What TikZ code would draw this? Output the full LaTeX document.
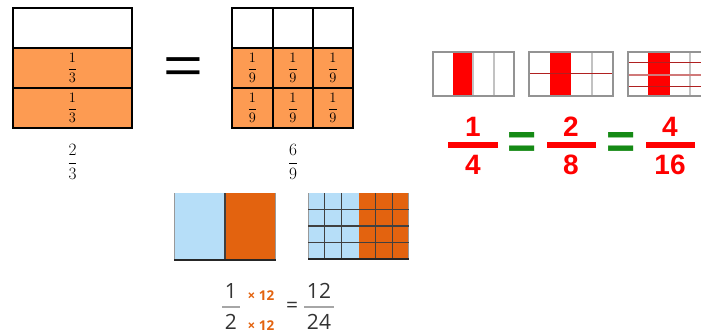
\documentclass[tikz,border=0pt]{standalone}
\usepackage{amsmath}
\usepackage{fontspec}
\newfontfamily\lsans{Liberation Sans}
\newfontfamily\osans{Open Sans}
\definecolor{lorange}{HTML}{FD9B52}
\definecolor{bblue}{HTML}{B6DEF8}
\definecolor{dorange}{HTML}{E3630F}
\definecolor{txtgray}{HTML}{333333}
\definecolor{ggreen}{HTML}{158A15}
\definecolor{dred}{HTML}{B02020}
\definecolor{rred}{HTML}{FF0000}
\tikzset{
  gridline/.style={line width=1.6pt, black},
  boxfrac/.style={inner sep=0pt, font=\fontsize{15}{17}\selectfont},
  labfrac/.style={inner sep=0pt, font=\fontsize{18}{20}\selectfont},
  redtxt/.style={inner sep=0pt, text=rred, font=\lsans\bfseries\fontsize{28}{30}\selectfont},
  redbar/.style={fill=rred, draw=none},
  greeneq/.style={inner sep=0pt, text=ggreen, font=\lsans\bfseries\fontsize{50}{50}\selectfont},
  smallframe/.style={draw=gray!85, line width=1.4pt},
  smalldiv/.style={draw=gray!120!black!60, line width=1.2pt},
  redline/.style={draw=dred, line width=1pt},
  btxt/.style={inner sep=0pt, text=txtgray, font=\osans\fontsize{21}{23}\selectfont},
  otxt/.style={inner sep=0pt, text=dorange, font=\osans\bfseries\fontsize{13.5}{15}\selectfont},
  fracbar/.style={draw=gray!70, line width=1.4pt},
  bgrid/.style={draw=black!75, line width=1.1pt},
}
\begin{document}
\begin{tikzpicture}[x=1pt,y=-1pt]
\useasboundingbox (0,0) rectangle (701,334);

% ---- left box 2/3 ----
\fill[lorange] (13,48) rectangle (132,128);
\draw[gridline] (13,8) rectangle (132,128);
\draw[gridline] (13,48) -- (132,48) (13,88) -- (132,88);
\node[boxfrac] (l1) at (72.5,68) {$\dfrac{1}{3}$};
\node[boxfrac] (l2) at (72.5,108) {$\dfrac{1}{3}$};
\node[labfrac] (lab1) at (72.5,162) {$\dfrac{2}{3}$};

% ---- big equals ----
\node[inner sep=0pt, font=\lsans\fontsize{62}{62}\selectfont] (eq1) at (183.5,71) {\scalebox{1.1}[0.85]{=}};

% ---- right box 6/9 ----
\fill[lorange] (232,48) rectangle (353,128);
\draw[gridline] (232,8) rectangle (353,128);
\draw[gridline] (232,48) -- (353,48) (232,88) -- (353,88)
  (273,8) -- (273,128) (313,8) -- (313,128);
\foreach \cx/\n in {252.5/a,293/b,333/c}{
  \node[boxfrac] (t\n) at (\cx,68) {$\dfrac{1}{9}$};
  \node[boxfrac] (u\n) at (\cx,108) {$\dfrac{1}{9}$};
}
\node[labfrac] (lab2) at (293,162) {$\dfrac{6}{9}$};

% ---- top right small rectangles ----
\fill[rred] (453,52) rectangle (473,96);
\draw[smalldiv] (473,52) -- (473,96) (494,52) -- (494,96);
\draw[smallframe] (433,52) rectangle (514,96);

\fill[rred] (550,52) rectangle (571,96);
\draw[smalldiv] (592,52) -- (592,96);
\draw[redline] (529,74) -- (613,74);
\draw[smallframe] (529,52) rectangle (613,96);

\begin{scope}
\clip (620,40) rectangle (701,110);
\fill[rred] (648,52) rectangle (670,96);
\draw[smalldiv] (690,52) -- (690,96);
\draw[redline] (628,63) -- (712,63) (628,87) -- (712,87);
\draw[draw=dred!60, line width=1.6pt] (628,75) -- (712,75);
\draw[smallframe] (628,52) rectangle (712,96);
\end{scope}

% ---- red fractions ----
\node[redtxt] (n1) at (473,127) {1};
\fill[redbar] (448,142) rectangle (498,148);
\node[redtxt] (d1) at (473,165) {4};
\node[greeneq] (g1) at (522.5,145) {=};
\node[redtxt] (n2) at (571,127) {2};
\fill[redbar] (547,142) rectangle (596,148);
\node[redtxt] (d2) at (571,165) {8};
\node[greeneq] (g2) at (621,145) {=};
\node[redtxt] (n3) at (670,127) {4};
\fill[redbar] (646,142) rectangle (695,148);
\node[redtxt] (d3) at (670,165) {16};

% ---- bottom rectangles ----
\fill[bblue] (174,193) rectangle (225,260);
\fill[dorange] (225,193) rectangle (276,260);
\draw[draw=gray!80, line width=0.8pt] (174.5,193) -- (174.5,260) (275.5,193) -- (275.5,260);
\draw[bgrid] (225,193) -- (225,260);
\draw[draw=black!85, line width=1.8pt] (174,260) -- (276,260);

\fill[bblue] (308,193) rectangle (358.5,259);
\fill[dorange] (358.5,193) rectangle (409,259);
\draw[draw=gray!80, line width=0.8pt] (308.5,193) -- (308.5,259) (408.5,193) -- (408.5,259);
\draw[bgrid] (324.8,193) -- (324.8,259) (341.7,193) -- (341.7,259)
  (375.3,193) -- (375.3,259) (392.2,193) -- (392.2,259)
  (308,209.5) -- (409,209.5) (308,226) -- (409,226) (308,242.5) -- (409,242.5);
\draw[draw=black!85, line width=1.8pt] (308,259) -- (409,259);

% ---- bottom equation ----
\node[btxt] (bn1) at (231,291) {1};
\draw[fracbar] (222,307) -- (240,307);
\node[btxt] (bd1) at (231,322) {2};
\node[otxt] (m1) at (261,296) {× 12};
\node[otxt] (m2) at (261,325.5) {× 12};
\node[btxt] (beq) at (292,307) {=};
\node[btxt] (bn2) at (319,291) {12};
\draw[fracbar] (304,307) -- (334,307);
\node[btxt] (bd2) at (319,322) {24};
\end{tikzpicture}
\end{document}
